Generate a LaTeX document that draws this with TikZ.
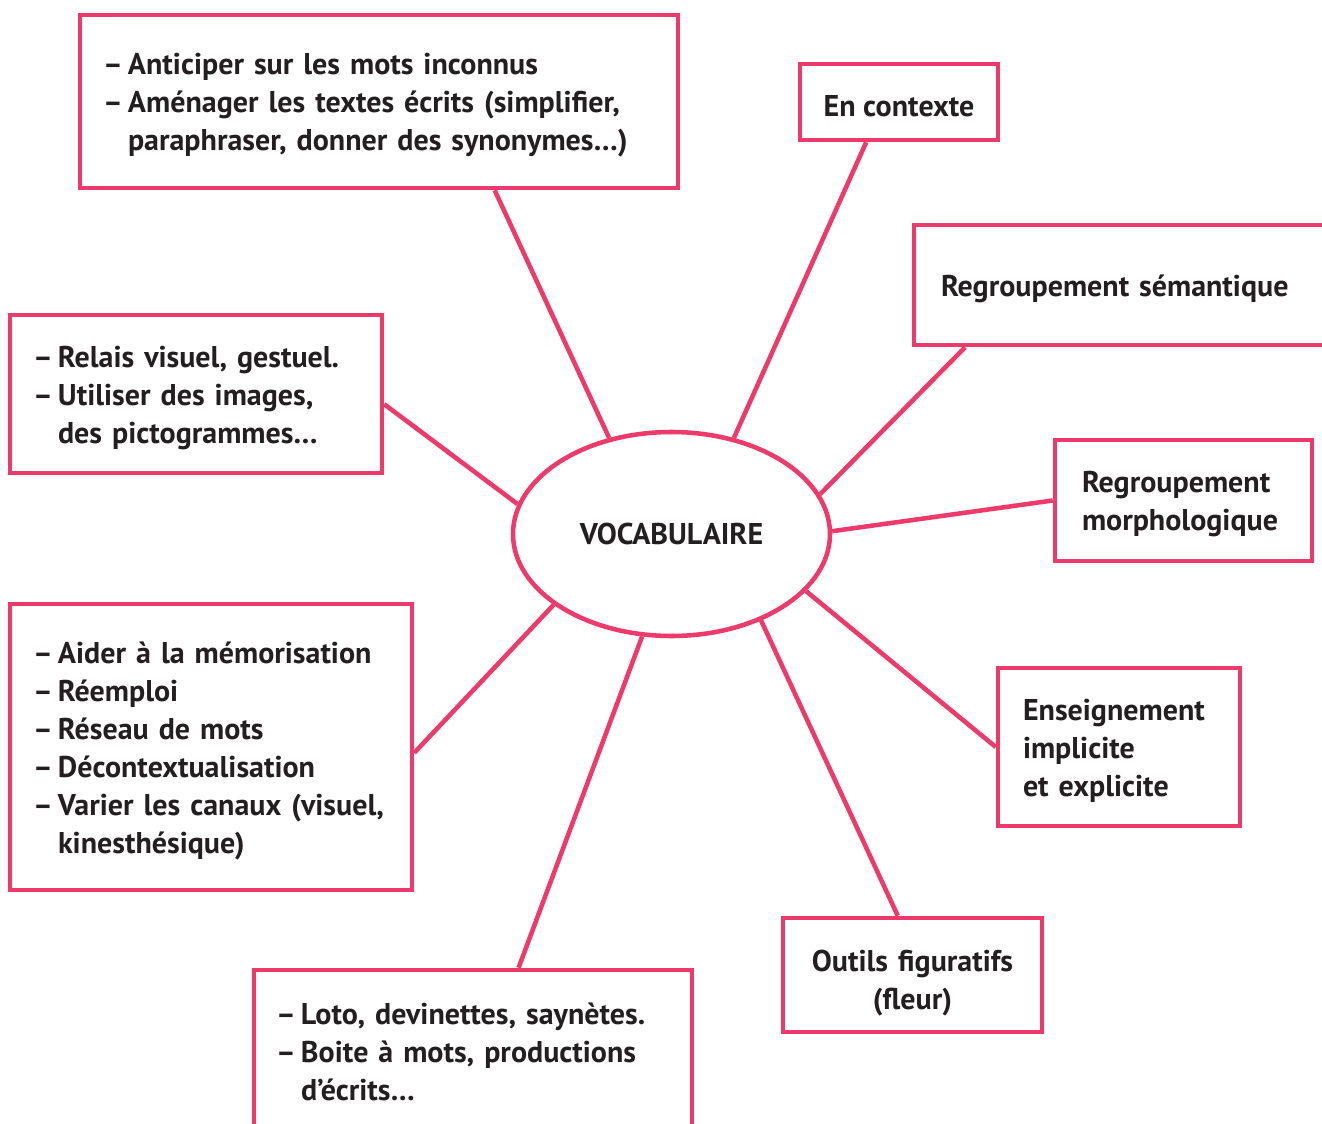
\documentclass[tikz,border=0pt]{standalone}
\usepackage{fontspec}
\setmainfont{PT Sans}
\usetikzlibrary{shapes.geometric}
\usetikzlibrary{calc}
\definecolor{vocpink}{RGB}{238,58,106}
\definecolor{vocink}{RGB}{35,31,32}
\tikzset{box/.style={draw=vocpink, line width=3.4pt, rectangle, inner xsep=0pt, inner ysep=0pt, align=left, text=vocink,
    execute at begin node={\rule{0pt}{22pt}}}}
\tikzset{link/.style={draw=vocpink, line width=3.4pt}}
\newcommand{\tiret}{\makebox[15.75pt][l]{\kern-3pt–}}
\newcommand{\retrait}{\hspace*{15.75pt}}

\begin{document}
\begin{tikzpicture}[x=0.75pt,y=-0.75pt,font=\fontsize{22.5}{28.5}\selectfont\bfseries]
        \useasboundingbox (0,0) rectangle (1322,1124);

        \node[ellipse, draw=vocpink, line width=3.4pt, minimum width=237.75pt, minimum height=153pt, text=vocink] (voc) at (671.5,534) {VOCABULAIRE};

        \node[box, minimum width=448.5pt, minimum height=129.75pt, text width=408pt] (anticiper) at (379,101.5)
            {\tiret Anticiper sur les mots inconnus\\ \tiret Aménager les textes écrits (simplifier,\\ \retrait paraphraser, donner des synonymes…)};
        \node[box, minimum width=148.5pt, minimum height=57pt, align=center] (contexte) at (899,102) {En contexte};
        \node[box, minimum width=319.5pt, minimum height=90pt, text width=279pt] (semantique) at (1127,285) {Regroupement sémantique};
        \node[box, minimum width=192.75pt, minimum height=90.75pt, text width=152.25pt] (morpho) at (1183.5,500.5) {Regroupement\\ morphologique};
        \node[box, minimum width=181.5pt, minimum height=118.5pt, text width=144pt] (enseign) at (1119,747) {Enseignement\\ implicite\\ et explicite};
        \node[box, minimum width=194.25pt, minimum height=85.5pt, text width=160pt, align=center,
            execute at begin node={\rule{0pt}{28pt}}] (outils) at (912.5,975) {Outils figuratifs\\ (fleur)};
        \node[box, minimum width=328.5pt, minimum height=117pt, text width=289.5pt] (loto) at (473,1048)
            {\tiret Loto, devinettes, saynètes.\\ \tiret Boite à mots, productions\\ \retrait d’écrits…};
        \node[box, minimum width=301.5pt, minimum height=214.5pt, text width=261pt] (memo) at (211,747)
            {\tiret Aider à la mémorisation\\ \tiret Réemploi\\ \tiret Réseau de mots\\ \tiret Décontextualisation\\ \tiret Varier les canaux (visuel,\\ \retrait kinesthésique)};
        \node[box, minimum width=279pt, minimum height=118.5pt, text width=238.5pt] (relais) at (196,394)
            {\tiret Relais visuel, gestuel.\\ \tiret Utiliser des images,\\ \retrait des pictogrammes…};

        % liens vers l'ellipse
        \draw[link] ($(anticiper.south west)!.692!(anticiper.south east)$) -- (voc.123);
        \draw[link] ($(contexte.south west)!.338!(contexte.south east)$) -- (voc.57);
        \draw[link] ($(semantique.south west)!.124!(semantique.south east)$) -- (voc.15);
        \draw[link] (morpho.west) -- (voc.1);
        \draw[link] (enseign.west) -- (voc.-23);
        \draw[link] ($(outils.north west)!.444!(outils.north east)$) -- (voc.-44);
        \draw[link] ($(loto.north west)!.603!(loto.north east)$) -- (voc.254);
        \draw[link] ($(memo.north east)!.52!(memo.south east)$) -- (voc.211);
        \draw[link] ($(relais.north east)!.563!(relais.south east)$) -- (voc.169);
    \end{tikzpicture}
\end{document}
